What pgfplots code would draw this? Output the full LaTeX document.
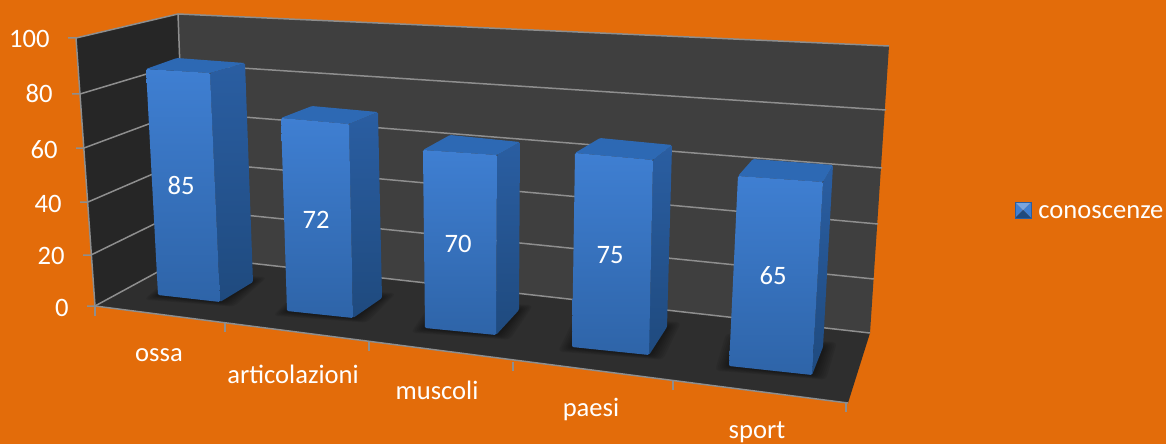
\documentclass[border=0pt]{standalone}
\usepackage{fontspec}
\setmainfont{Carlito}
\usepackage{pgfplots}
\pgfplotsset{compat=1.18}

\definecolor{bg}{HTML}{E36C0A}
\definecolor{backwall}{HTML}{3F3F3F}
\definecolor{sidewall}{HTML}{262626}
\definecolor{floorc}{HTML}{2E2E2E}
\definecolor{gridc}{HTML}{8E8E8E}
\definecolor{frontT}{HTML}{3F7FD2}
\definecolor{frontB}{HTML}{2E64A8}
\definecolor{sideT}{HTML}{2A5EA2}
\definecolor{sideB}{HTML}{1F4A7E}
\definecolor{topc}{HTML}{2D69B4}

\tikzset{
  grid line/.style={draw=gridc,line width=0.75pt},
  lab/.style={text=white,font=\fontsize{13.3pt}{13.3pt}\selectfont,inner sep=0pt},
}

% corner of a bar: name, base x, base y, shift in x and y for a value of 100
\def\setcorner#1#2#3#4#5{%
  \expandafter\def\csname bx#1\endcsname{#2}%
  \expandafter\def\csname by#1\endcsname{#3}%
  \expandafter\pgfmathsetmacro\csname x#1\endcsname{#2+#4*(\val/100)}%
  \expandafter\pgfmathsetmacro\csname y#1\endcsname{#3+#5*(\val/100)}}

\newcommand\shadowpoly[1]{%
  \pgfmathsetmacro\spa{\bxFL-#1}\pgfmathsetmacro\spb{\byFL+#1/3}%
  \pgfmathsetmacro\spc{\bxFR+#1}\pgfmathsetmacro\spd{\byFR+#1/3}%
  \pgfmathsetmacro\spe{\bxBR+#1}\pgfmathsetmacro\spf{\byBR-#1/3}%
  \pgfmathsetmacro\spg{\bxBL-#1}\pgfmathsetmacro\sph{\byBL-#1/3}%
  \edef\temp{\noexpand\addplot[fill=black,fill opacity=0.07,draw=none,rounded corners=2pt]
    coordinates {(\spa,\spb)(\spc,\spd)(\spe,\spf)(\spg,\sph)} -- cycle;}\temp}

\newcommand\drawbar{%
  \shadowpoly{14}\shadowpoly{12}\shadowpoly{10}\shadowpoly{8}\shadowpoly{6}\shadowpoly{4}\shadowpoly{2}%
  \edef\temp{\noexpand\addplot[top color=sideT,bottom color=sideB,draw=none,rounded corners=0.6pt]
    coordinates {(\xFR,\yFR)(\xBR,\yBR)(\bxBR,\byBR)(\bxFR,\byFR)} -- cycle;}\temp
  \edef\temp{\noexpand\addplot[fill=topc,draw=none,rounded corners=0.6pt]
    coordinates {(\xFL,\yFL)(\xBL,\yBL)(\xBR,\yBR)(\xFR,\yFR)} -- cycle;}\temp
  \edef\temp{\noexpand\addplot[top color=frontT,bottom color=frontB,draw=none,rounded corners=0.6pt]
    coordinates {(\xFL,\yFL)(\xFR,\yFR)(\bxFR,\byFR)(\bxFL,\byFL)} -- cycle;}\temp}

\begin{document}
\begin{tikzpicture}
\begin{axis}[
  scale only axis, width=583pt, height=222pt,
  xmin=0, xmax=1166, ymin=0, ymax=444,
  y dir=reverse, hide axis, enlargelimits=false,
]
% page and walls
\addplot[fill=bg,draw=none] coordinates {(0,0)(1166,0)(1166,444)(0,444)} -- cycle;
\addplot[fill=sidewall,draw=none] coordinates {(76,38)(178,14)(187,256)(95,306)} -- cycle;
\addplot[fill=backwall,draw=none] coordinates {(178,14)(889,46)(870,333)(187,256)} -- cycle;
\addplot[fill=floorc,draw=none] coordinates {(95,306)(187,256)(870,333)(848,403)} -- cycle;

% gridlines, side wall then back wall
\addplot[grid line] coordinates {(68,38)(76,38)(178,14)(889,46)};
\addplot[grid line] coordinates {(72,94)(80,94)(180,64)(886,110)};
\addplot[grid line] coordinates {(76,148)(84,148)(181,112)(882,168)};
\addplot[grid line] coordinates {(80,202)(88,202)(183,161)(878,224)};
\addplot[grid line] coordinates {(83,255)(91,255)(185,209)(874,279)};
\addplot[grid line] coordinates {(87,306)(95,306)(187,256)(870,333)};
% wall edges
\addplot[grid line] coordinates {(76,38)(95,306)};
\addplot[grid line] coordinates {(178,14)(187,256)};
% front edge of the floor with its ticks
\addplot[grid line] coordinates {(95,306)(848,403)};
\addplot[grid line] coordinates {(95,306)(95,316)};
\addplot[grid line] coordinates {(225,323)(225,332)};
\addplot[grid line] coordinates {(369,342)(369,351)};
\addplot[grid line] coordinates {(513,362)(513,371)};
\addplot[grid line] coordinates {(673,381)(673,390)};
\addplot[grid line] coordinates {(846,403)(846,412)};

% bars: value, then the four corners of each base
\def\val{85}
\setcorner{FL}{158}{295}{-14.1}{-265.9}
\setcorner{FR}{220}{302}{-11.8}{-269.4}
\setcorner{BR}{253}{282}{-9.4}{-257.6}
\setcorner{BL}{191}{275}{-16.5}{-255.3}
\drawbar
\def\val{72}
\setcorner{FL}{287}{311}{-8.3}{-268.1}
\setcorner{FR}{353}{318}{-5.6}{-269.4}
\setcorner{BR}{382}{298}{-5.6}{-258.3}
\setcorner{BL}{316}{291}{-5.6}{-256.9}
\drawbar
\def\val{70}
\setcorner{FL}{425}{328}{-2.9}{-254.3}
\setcorner{FR}{496}{335}{1.4}{-257.1}
\setcorner{BR}{519}{310}{1.4}{-240}
\setcorner{BL}{448}{303}{2.9}{-240}
\drawbar
\def\val{75}
\setcorner{FL}{572}{347}{4}{-258.7}
\setcorner{FR}{649}{355}{5.3}{-260}
\setcorner{BR}{667}{327}{6.7}{-242.7}
\setcorner{BL}{590}{319}{13.3}{-241.3}
\drawbar
\def\val{65}
\setcorner{FL}{729}{366}{13.8}{-292.3}
\setcorner{FR}{812}{375}{16.9}{-296.9}
\setcorner{BR}{823}{347}{15.4}{-280}
\setcorner{BL}{740}{338}{20}{-275.4}
\drawbar

% legend key
\addplot[fill=frontT,draw=none] coordinates {(1015,202)(1023,210)(1015,218)} -- cycle;
\addplot[fill=frontT,draw=none] coordinates {(1031,202)(1023,210)(1031,218)} -- cycle;
\addplot[fill=frontT!70!white,draw=none] coordinates {(1015,202)(1031,202)(1023,210)} -- cycle;
\addplot[fill=sideB,draw=none] coordinates {(1015,218)(1031,218)(1023,210)} -- cycle;
\addplot[draw=sideT,line width=0.5pt] coordinates {(1015,202)(1031,202)(1031,218)(1015,218)} -- cycle;

% value axis
\node[lab,anchor=base east] at (axis cs:50,47.5) {100};
\node[lab,anchor=base east] at (axis cs:53,103) {80};
\node[lab,anchor=base east] at (axis cs:58,158) {60};
\node[lab,anchor=base east] at (axis cs:62,212) {40};
\node[lab,anchor=base east] at (axis cs:65,264) {20};
\node[lab,anchor=base east] at (axis cs:69,316) {0};
% data labels
\node[lab,anchor=base] at (axis cs:181,194) {85};
\node[lab,anchor=base] at (axis cs:316,228) {72};
\node[lab,anchor=base] at (axis cs:458,252) {70};
\node[lab,anchor=base] at (axis cs:610,263) {75};
\node[lab,anchor=base] at (axis cs:773,284) {65};
% categories
\node[lab,anchor=base] at (axis cs:159,361) {ossa};
\node[lab,anchor=base] at (axis cs:293,383) {articolazioni};
\node[lab,anchor=base] at (axis cs:437,399) {muscoli};
\node[lab,anchor=base] at (axis cs:591,416) {paesi};
\node[lab,anchor=base] at (axis cs:757,438) {sport};
\node[lab,anchor=base west] at (axis cs:1038,218) {conoscenze};
\end{axis}
\end{tikzpicture}
\end{document}
